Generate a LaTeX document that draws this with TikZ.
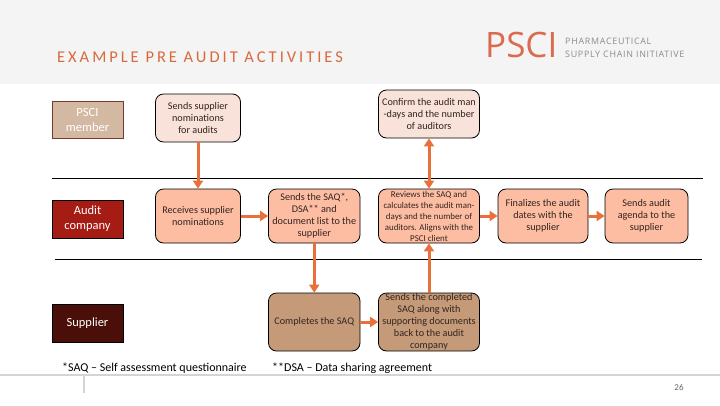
\documentclass[tikz,border=0pt]{standalone}
\usepackage{fontspec}
\setmainfont{Carlito}
\newfontfamily\titlefont[LetterSpace=18]{Carlito}
\newfontfamily\logofont{Open Sans}
\newfontfamily\logosmall[LetterSpace=8]{Open Sans}
\usetikzlibrary{arrows.meta}
\definecolor{hdr}{HTML}{F4F4F4}
\definecolor{orng}{HTML}{E8703A}
\definecolor{titlec}{HTML}{D9693A}
\definecolor{logoc}{HTML}{DB6A4E}
\definecolor{logog}{HTML}{8C8C8C}
\definecolor{paleb}{HTML}{F8E2DA}
\definecolor{salmon}{HTML}{FDBDA2}
\definecolor{tan}{HTML}{C49A78}
\definecolor{txt}{HTML}{33241F}
\definecolor{pscifill}{HTML}{D3B8A2}
\definecolor{psciline}{HTML}{7A3A2E}
\definecolor{auditfill}{HTML}{A51C14}
\definecolor{supfill}{HTML}{4A0F08}
\tikzset{
  flow/.style={draw=black,line width=0.8pt,rounded corners=8pt,inner sep=0pt,align=center,text=txt,font=\fontsize{10.2}{12}\selectfont},
  palebox/.style={flow,fill=paleb},
  salbox/.style={flow,fill=salmon},
  tanbox/.style={flow,fill=tan},
  role/.style={line width=0.8pt,inner sep=0pt,minimum width=71pt,align=center,text=white,font=\fontsize{12.5}{15}\selectfont},
  arr/.style={draw=orng,line width=3pt,-{Triangle[length=8pt,width=10pt]}},
  darr/.style={draw=orng,line width=3pt,{Triangle[length=8pt,width=10pt]}-{Triangle[length=8pt,width=10pt]}},
  rule/.style={draw=black,line width=0.7pt},
  foot/.style={draw=black!17,line width=1.3pt},
  note/.style={anchor=west,inner sep=0pt,text=black,font=\fontsize{12}{13}\selectfont}
}
\begin{document}
\begin{tikzpicture}[x=1pt,y=-1pt]
\useasboundingbox (0,0) rectangle (720,405);
\fill[hdr] (0,0) rectangle (720,84);
\node[anchor=west,inner sep=0pt,text=titlec,font=\fontsize{16.5}{18}\titlefont] (title) at (57,57.5) {EXAMPLE PRE AUDIT ACTIVITIES};
\node[anchor=west,inner sep=0pt,text=logoc,font=\fontsize{35}{37}\logofont] (logo) at (485,44.5) {PSCI};
\node[anchor=west,inner sep=0pt,text=logog,align=left,font=\fontsize{8.9}{12.5}\logosmall] (logotext) at (565,48) {PHARMACEUTICAL\\SUPPLY CHAIN INITIATIVE};
\coordinate (r1a) at (52,178); \coordinate (r1b) at (703,178);
\coordinate (r2a) at (55,259); \coordinate (r2b) at (702,259);
\draw[rule] (r1a) -- (r1b);
\draw[rule] (r2a) -- (r2b);
\coordinate (f1a) at (0,375); \coordinate (f1b) at (720,375);
\coordinate (f2a) at (84,375); \coordinate (f2b) at (84,393);
\draw[foot] (f1a) -- (f1b);
\draw[foot] (f2a) -- (f2b);
\node[role,draw=psciline,fill=pscifill,minimum height=37pt] (psci) at (87.5,119.5) {PSCI\\member};
\node[role,draw=black,fill=auditfill,minimum height=38pt] (audit) at (87.5,219) {Audit\\company};
\node[role,draw=black,fill=supfill,minimum height=38pt] (supplier) at (87.5,323) {Supplier};
\node[palebox,minimum width=85pt,minimum height=48pt] (nom) at (198,118) {Sends supplier\\nominations\\for audits};
\node[salbox,minimum width=85pt,minimum height=54pt] (rec) at (198,216) {Receives supplier\\nominations};
\node[salbox,minimum width=91.5pt,minimum height=54pt] (saq) at (314.25,216) {Sends the SAQ*,\\DSA** and\\document list to the\\supplier};
\node[palebox,minimum width=101pt,minimum height=48pt] (conf) at (429,114) {Confirm the audit man\\-days and the number\\of auditors};
\node[salbox,minimum width=101pt,minimum height=54pt,font=\fontsize{8.9}{11}\selectfont] (rev) at (429,216) {Reviews the SAQ and\\calculates the audit man-\\days and the number of\\auditors. Aligns with the\\PSCI client};
\node[salbox,minimum width=90pt,minimum height=54pt] (fin) at (543,216) {Finalizes the audit\\dates with the\\supplier};
\node[salbox,minimum width=83pt,minimum height=54pt] (age) at (646.5,216) {Sends audit\\agenda to the\\supplier};
\node[tanbox,minimum width=91.5pt,minimum height=58pt] (comp) at (314.25,322) {Completes the SAQ};
\node[tanbox,minimum width=101pt,minimum height=58pt] (back) at (429,322) {Sends the completed\\SAQ along with\\supporting documents\\back to the audit\\company};
\draw[arr] (nom.south) -- (rec.north);
\draw[arr] (rec.east) -- (saq.west);
\draw[arr] (saq.south) -- (comp.north);
\draw[arr] (comp.east) -- (back.west);
\draw[arr] (back.north) -- (rev.south);
\draw[darr] (conf.south) -- (rev.north);
\draw[arr] (rev.east) -- (fin.west);
\draw[arr] (fin.east) -- (age.west);
\node[note] (n1) at (62,368) {*SAQ – Self assessment questionnaire};
\node[note] (n2) at (272,368) {**DSA – Data sharing agreement};
\node[inner sep=0pt,text=black!60,font=\fontsize{9}{10}\selectfont] (pg) at (679,387) {26};
\end{tikzpicture}
\end{document}
